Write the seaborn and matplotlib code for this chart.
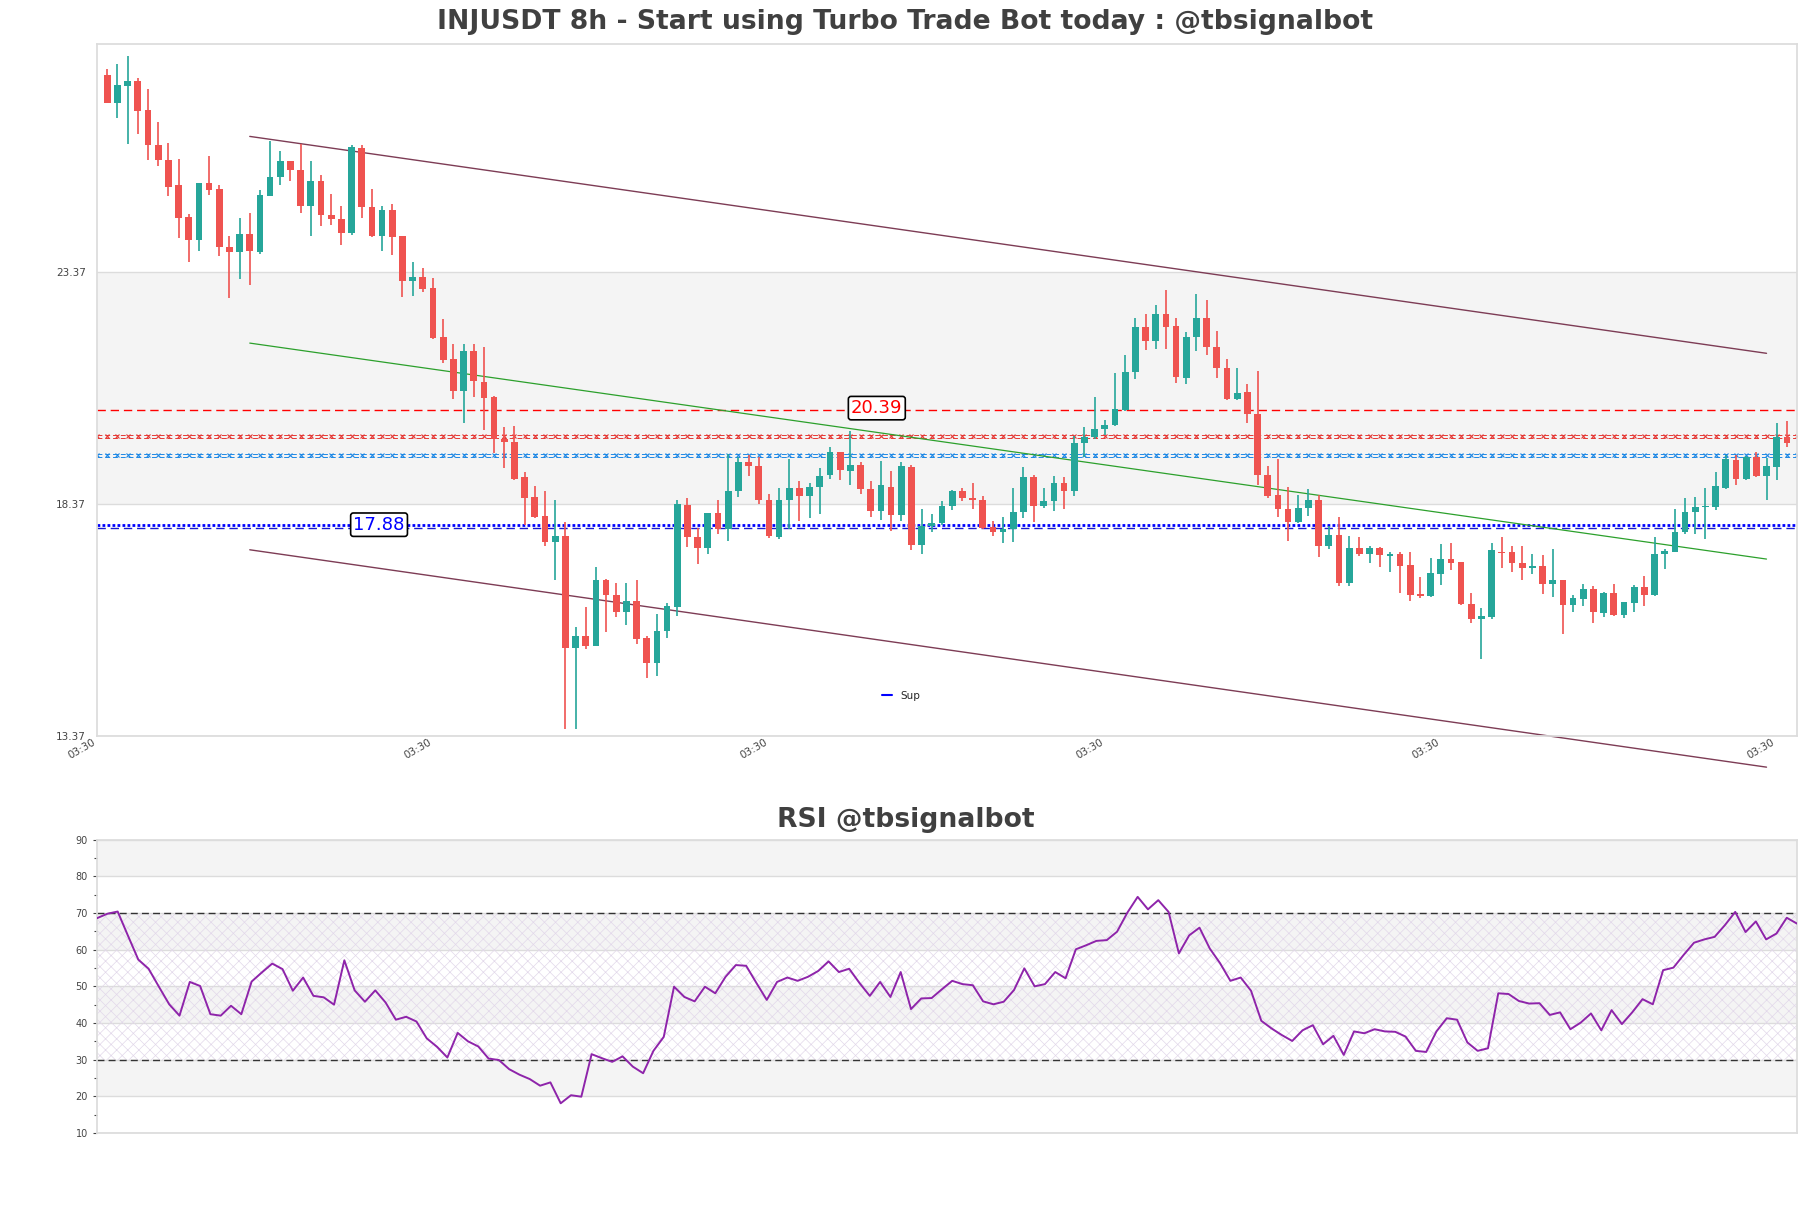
import numpy as np
import pandas as pd
import matplotlib
matplotlib.use("Agg")
import matplotlib.pyplot as plt
from matplotlib.lines import Line2D
import seaborn as sns

# ---- candle data (8h bars) ----
opens = [27.61, 27.00, 27.37, 27.48, 26.85, 26.10, 25.77, 25.23, 24.54, 24.06,
         25.27, 25.14, 23.90, 23.80, 24.17, 23.80, 25.00, 25.41, 25.76, 25.56,
         24.79, 25.31, 24.58, 24.51, 24.20, 26.04, 24.77, 24.14, 24.69, 24.14,
         23.16, 23.26, 23.01, 21.96, 21.49, 20.79, 21.66, 21.00, 20.67, 19.77,
         19.71, 18.94, 18.52, 18.11, 17.54, 17.68, 15.26, 15.52, 15.31, 16.72,
         16.40, 16.05, 16.27, 15.47, 14.95, 15.64, 16.14, 18.34, 17.65, 17.41,
         18.17, 17.82, 18.64, 19.26, 19.19, 18.45, 17.66, 18.45, 18.70, 18.54,
         18.73, 18.99, 19.48, 19.07, 19.21, 18.68, 18.22, 18.73, 18.13, 19.16,
         17.49, 17.89, 17.95, 18.32, 18.64, 18.49, 18.46, 17.87, 17.77, 17.82,
         18.19, 18.95, 18.33, 18.43, 18.81, 18.64, 19.67, 19.80, 19.98, 20.07,
         20.39, 21.20, 22.18, 21.87, 22.45, 22.20, 21.08, 21.96, 22.37, 21.75,
         21.29, 20.62, 20.77, 20.31, 19.00, 18.56, 18.25, 17.97, 18.27, 18.45,
         17.47, 17.70, 16.67, 17.42, 17.29, 17.42, 17.25, 17.29, 17.06, 16.43,
         16.38, 16.86, 17.18, 17.12, 16.22, 15.88, 15.93, 17.34, 17.34, 17.10,
         16.98, 17.03, 16.65, 16.72, 16.19, 16.32, 16.53, 16.02, 16.46, 15.98,
         16.24, 16.58, 16.40, 17.28, 17.34, 17.76, 18.19, 18.30, 18.30, 18.71,
         19.31, 18.90, 19.37, 18.97, 19.16, 19.80]
closes = [27.00, 27.39, 27.48, 26.83, 26.10, 25.77, 25.19, 24.53, 24.06, 25.27,
          25.12, 23.89, 23.80, 24.17, 23.82, 25.02, 25.41, 25.76, 25.56, 24.79,
          25.31, 24.58, 24.51, 24.20, 26.05, 24.77, 24.14, 24.69, 24.12, 23.16,
          23.26, 23.00, 21.95, 21.47, 20.79, 21.66, 21.01, 20.65, 19.77, 19.70,
          18.91, 18.50, 18.08, 17.54, 17.68, 15.26, 15.52, 15.31, 16.72, 16.40,
          16.05, 16.27, 15.46, 14.95, 15.64, 16.17, 18.37, 17.65, 17.41, 18.17,
          17.82, 18.64, 19.26, 19.19, 18.45, 17.68, 18.45, 18.70, 18.54, 18.73,
          18.97, 19.48, 19.09, 19.21, 18.68, 18.22, 18.78, 18.13, 19.18, 17.49,
          17.89, 17.95, 18.32, 18.64, 18.49, 18.46, 17.85, 17.77, 17.82, 18.19,
          18.95, 18.33, 18.42, 18.81, 18.64, 19.67, 19.80, 19.98, 20.07, 20.41,
          21.20, 22.18, 21.87, 22.45, 22.18, 21.10, 21.96, 22.37, 21.75, 21.29,
          20.62, 20.76, 20.31, 19.00, 18.54, 18.25, 17.97, 18.27, 18.45, 17.47,
          17.70, 16.67, 17.42, 17.29, 17.42, 17.27, 17.28, 17.04, 16.41, 16.38,
          16.88, 17.18, 17.10, 16.21, 15.88, 15.95, 17.37, 17.31, 17.10, 16.99,
          17.03, 16.65, 16.74, 16.19, 16.34, 16.53, 16.03, 16.46, 15.98, 16.26,
          16.58, 16.40, 17.29, 17.36, 17.77, 18.19, 18.30, 18.33, 18.75, 19.33,
          18.90, 19.38, 18.97, 19.18, 19.80, 19.67]
highs = [27.74, 27.83, 28.01, 27.54, 27.31, 26.58, 26.14, 25.79, 24.60, 25.27,
         25.85, 25.23, 24.13, 24.52, 24.64, 25.13, 26.18, 25.96, 25.76, 26.11,
         25.74, 25.44, 25.05, 24.78, 26.09, 26.09, 25.14, 24.79, 24.82, 24.14,
         23.58, 23.45, 23.23, 22.35, 21.82, 21.80, 21.82, 21.75, 20.70, 20.03,
         20.04, 19.05, 18.75, 18.64, 18.45, 17.97, 15.71, 16.15, 17.00, 16.75,
         16.67, 16.67, 16.72, 15.52, 16.00, 16.24, 18.45, 18.49, 17.84, 18.17,
         18.45, 19.45, 19.38, 19.43, 19.38, 18.59, 18.71, 19.34, 18.86, 18.81,
         19.14, 19.59, 19.48, 19.93, 19.26, 18.86, 19.29, 19.07, 19.26, 19.21,
         18.25, 18.14, 18.43, 18.67, 18.71, 18.81, 18.54, 18.01, 18.09, 18.70,
         19.16, 19.00, 18.71, 18.97, 18.94, 19.83, 20.03, 20.68, 20.17, 21.18,
         21.58, 22.37, 22.45, 22.64, 22.98, 22.37, 22.07, 22.88, 22.76, 22.09,
         21.49, 21.30, 20.94, 21.22, 19.19, 19.33, 18.73, 18.56, 18.68, 18.57,
         17.89, 18.08, 17.68, 17.65, 17.47, 17.43, 17.34, 17.34, 17.34, 16.80,
         17.20, 17.51, 17.53, 17.12, 16.45, 16.12, 17.53, 17.65, 17.47, 17.47,
         17.28, 17.27, 17.39, 16.72, 16.40, 16.65, 16.60, 16.48, 16.65, 16.26,
         16.62, 16.82, 17.65, 17.39, 18.25, 18.49, 18.52, 18.70, 19.05, 19.43,
         19.43, 19.40, 19.48, 19.36, 20.12, 20.15]
lows = [26.99, 26.68, 26.11, 26.33, 25.77, 25.65, 25.00, 24.10, 23.57, 23.81,
        25.02, 23.71, 22.81, 23.20, 23.07, 23.75, 25.00, 25.24, 25.31, 24.63,
        24.14, 24.35, 24.38, 23.95, 24.16, 24.53, 24.12, 23.82, 23.73, 22.82,
        22.85, 22.92, 21.91, 21.41, 20.62, 20.12, 20.67, 19.96, 19.47, 19.14,
        18.89, 17.92, 18.06, 17.47, 16.74, 13.53, 13.53, 15.25, 15.30, 15.62,
        15.93, 15.76, 15.36, 14.63, 14.66, 15.49, 15.95, 17.44, 17.08, 17.29,
        17.73, 17.56, 18.51, 18.97, 18.37, 17.63, 17.61, 17.82, 17.99, 18.06,
        18.16, 18.90, 18.88, 18.78, 18.59, 18.09, 18.03, 17.79, 17.99, 17.37,
        17.28, 17.77, 17.92, 18.23, 18.43, 18.25, 17.83, 17.68, 17.52, 17.55,
        18.06, 17.98, 18.27, 18.21, 18.25, 18.54, 19.38, 19.76, 19.85, 20.04,
        20.36, 21.06, 21.68, 21.70, 21.70, 20.98, 20.95, 21.65, 21.58, 21.08,
        20.60, 20.61, 20.12, 18.78, 18.49, 18.08, 17.56, 17.96, 18.11, 17.23,
        17.39, 16.60, 16.60, 17.25, 17.10, 17.01, 16.91, 16.45, 16.27, 16.34,
        16.37, 16.63, 16.94, 16.19, 15.81, 15.02, 15.88, 16.98, 16.91, 16.74,
        16.86, 16.43, 16.36, 15.57, 16.05, 16.17, 15.81, 15.93, 15.95, 15.91,
        16.03, 16.17, 16.39, 16.96, 17.33, 17.73, 17.73, 17.61, 18.23, 18.68,
        18.78, 18.88, 18.94, 18.45, 18.88, 19.59]

# ---- RSI values ----
rsi = [68.6, 69.8, 70.4, 63.8, 57.3, 54.8, 49.9, 45.1, 42.0, 51.2,
       50.1, 42.4, 42.0, 44.7, 42.4, 51.3, 53.8, 56.2, 54.7, 48.8,
       52.4, 47.4, 47.0, 45.0, 57.1, 48.9, 45.8, 48.9, 45.6, 40.9,
       41.7, 40.4, 35.8, 33.5, 30.6, 37.3, 35.0, 33.6, 30.3, 29.9,
       27.4, 25.9, 24.7, 22.9, 23.8, 18.1, 20.3, 19.9, 31.5, 30.4,
       29.4, 30.9, 28.1, 26.3, 32.4, 36.2, 49.9, 47.1, 45.9, 49.9,
       48.1, 52.6, 55.8, 55.6, 50.9, 46.3, 51.2, 52.4, 51.5, 52.6,
       54.2, 56.8, 53.9, 54.8, 50.9, 47.4, 51.2, 47.1, 53.9, 43.8,
       46.7, 46.8, 49.2, 51.5, 50.6, 50.3, 45.9, 45.1, 45.8, 49.0,
       54.9, 50.0, 50.6, 53.9, 52.2, 60.1, 61.2, 62.4, 62.6, 64.9,
       70.1, 74.4, 71.0, 73.5, 70.3, 59.0, 63.9, 66.0, 60.3, 56.3,
       51.5, 52.4, 48.8, 40.6, 38.5, 36.7, 35.1, 38.0, 39.4, 34.2,
       36.5, 31.3, 37.7, 37.2, 38.3, 37.7, 37.6, 36.3, 32.4, 32.1,
       37.7, 41.3, 40.9, 34.7, 32.4, 33.1, 48.1, 47.9, 46.0, 45.3,
       45.4, 42.2, 42.9, 38.3, 40.1, 42.6, 38.0, 43.5, 39.7, 42.9,
       46.5, 45.1, 54.4, 55.1, 58.6, 61.9, 62.8, 63.5, 66.7, 70.3,
       64.8, 67.7, 62.8, 64.4, 68.7, 67.1]

# ---- levels / channel ----
resistance = 20.39
support = 17.88
sup_dotted = 17.92
sup_dashed = 17.84
red_zone = 19.82
blue_zone = 19.41
channel_x = [14, 163]
channel_top = [26.28, 21.61]
channel_mid = [21.83, 17.18]
channel_bot = [17.38, 12.70]
ytick_vals = [13.37, 18.37, 23.37]
xtick_pos = [-1, 32, 65, 98, 131, 164]
xtick_labels = ["03:30"] * 6

title = "INJUSDT 8h - Start using Turbo Trade Bot today : @tbsignalbot"
rsi_title = "RSI @tbsignalbot"

sns.set_theme(style="white")
plt.rcParams['font.family'] = ['DejaVu Sans']
plt.rcParams['hatch.linewidth'] = 0.5

UP, DOWN = '#26a69a', '#ef5350'
GRID = '#dcdcdc'
BAND = '#f4f4f4'

fig = plt.figure(figsize=(18.11, 12.08), dpi=100)
ax = fig.add_axes([0.0536, 0.3907, 0.9387, 0.5729])
ax2 = fig.add_axes([0.0536, 0.0621, 0.9387, 0.2428])

df = pd.DataFrame({'open': opens, 'high': highs, 'low': lows, 'close': closes})
df['idx'] = np.arange(len(df))
colors = np.where(df['close'] >= df['open'], UP, DOWN)

# background band + grid
ax.axhspan(18.37, 23.37, color=BAND, zorder=0, lw=0)
for v in ytick_vals:
    ax.axhline(v, color=GRID, lw=1, zorder=0.5)

# candles
ax.vlines(df['idx'], df['low'], df['high'], colors=colors, lw=1.2, zorder=3)
body_h = (df['close'] - df['open']).abs().clip(lower=0.03)
ax.bar(df['idx'], body_h, bottom=df[['open', 'close']].min(axis=1),
       width=0.66, color=colors, zorder=4, lw=0)

# horizontal levels
ax.axhline(resistance, color='red', lw=1, ls=(0, (6, 3.5)), zorder=2)
xs_full = np.arange(-1, len(df) + 1)
for lvl, col in ((red_zone, '#e53935'), (blue_zone, '#1e88e5')):
    for off in (-0.035, 0.035):
        ax.axhline(lvl + off, color=col, lw=0.7, ls=(0, (5, 3)), zorder=2)
    ax.plot(xs_full, np.full(len(xs_full), lvl), ls='none', marker='x',
            ms=3.5, mew=0.8, color=col, zorder=2)
ax.axhline(sup_dotted, color='blue', lw=2, ls=(0, (1, 0.8)), zorder=2)
ax.axhline(sup_dashed, color='#1a1acd', lw=1, ls=(0, (6, 3.5)), zorder=2)

# channel
sns.lineplot(x=channel_x, y=channel_top, ax=ax, color='#7d3c55', lw=1,
             clip_on=False, zorder=2)
sns.lineplot(x=channel_x, y=channel_mid, ax=ax, color='#2ca02c', lw=0.9,
             clip_on=False, zorder=2)
sns.lineplot(x=channel_x, y=channel_bot, ax=ax, color='#7d3c55', lw=1,
             clip_on=False, zorder=2)

# price labels
box = dict(boxstyle='round,pad=0.15', fc='white', ec='black', lw=1.2)
ax.text(75.6, 20.43, f"{resistance:.2f}", color='red', fontsize=13,
        ha='center', va='center', bbox=box, zorder=6)
ax.text(26.7, 17.92, f"{support:.2f}", color='blue', fontsize=13,
        ha='center', va='center', bbox=box, zorder=6)

ax.legend(handles=[Line2D([0], [0], color='blue', lw=1.5)], labels=['Sup'],
          loc='center', bbox_to_anchor=(0.473, 0.058), frameon=False,
          fontsize=7.5, handlelength=0.9)

ax.set_xlim(-1, len(df))
ax.set_ylim(13.37, 28.27)
ax.set_yticks(ytick_vals)
ax.set_yticklabels([f"{v:.2f}" for v in ytick_vals])
ax.set_xticks(xtick_pos)
ax.set_xticklabels(xtick_labels, rotation=30, ha='right')
ax.tick_params(axis='y', labelsize=7.5, colors='#444444', length=0, pad=8)
ax.tick_params(axis='x', labelsize=7.5, colors='#444444', length=0, pad=1)
for s in ax.spines.values():
    s.set_color(GRID)

# ---- RSI panel ----
for lo in (20, 40, 60, 80):
    ax2.axhspan(lo, lo + 10, color=BAND, lw=0, zorder=0)
for v in range(10, 91, 10):
    ax2.axhline(v, color=GRID, lw=1, zorder=0.5)
ax2.fill_between([0, len(rsi) - 1], 30, 70, facecolor='none',
                 edgecolor='#e2d8ea', hatch='xxx', lw=0, zorder=1)
ax2.axhline(70, color='#333333', lw=1, ls=(0, (5, 3)), zorder=2)
ax2.axhline(30, color='#333333', lw=1, ls=(0, (5, 3)), zorder=2)
sns.lineplot(x=np.arange(len(rsi)), y=rsi, ax=ax2, color='#8e24aa', lw=1.4,
             zorder=3)
ax2.set_xlim(0, len(rsi) - 1)
ax2.set_ylim(10, 90)
ax2.set_yticks(range(10, 91, 10))
ax2.set_yticks(range(15, 90, 10), minor=True)
ax2.set_xticks([])
ax2.tick_params(axis='y', which='both', labelsize=7, colors='#444444',
                length=3, width=0.8, left=True)
ax2.tick_params(axis='y', which='minor', length=2)
for s in ax2.spines.values():
    s.set_color(GRID)

fig.text(0.5, 0.9818, title, ha='center', va='center', fontsize=19.2,
         fontweight='bold', color='#404040')
fig.text(0.5, 0.3212, rsi_title, ha='center', va='center', fontsize=19.2,
         fontweight='bold', color='#404040')

fig.savefig('out.png', dpi=100)
